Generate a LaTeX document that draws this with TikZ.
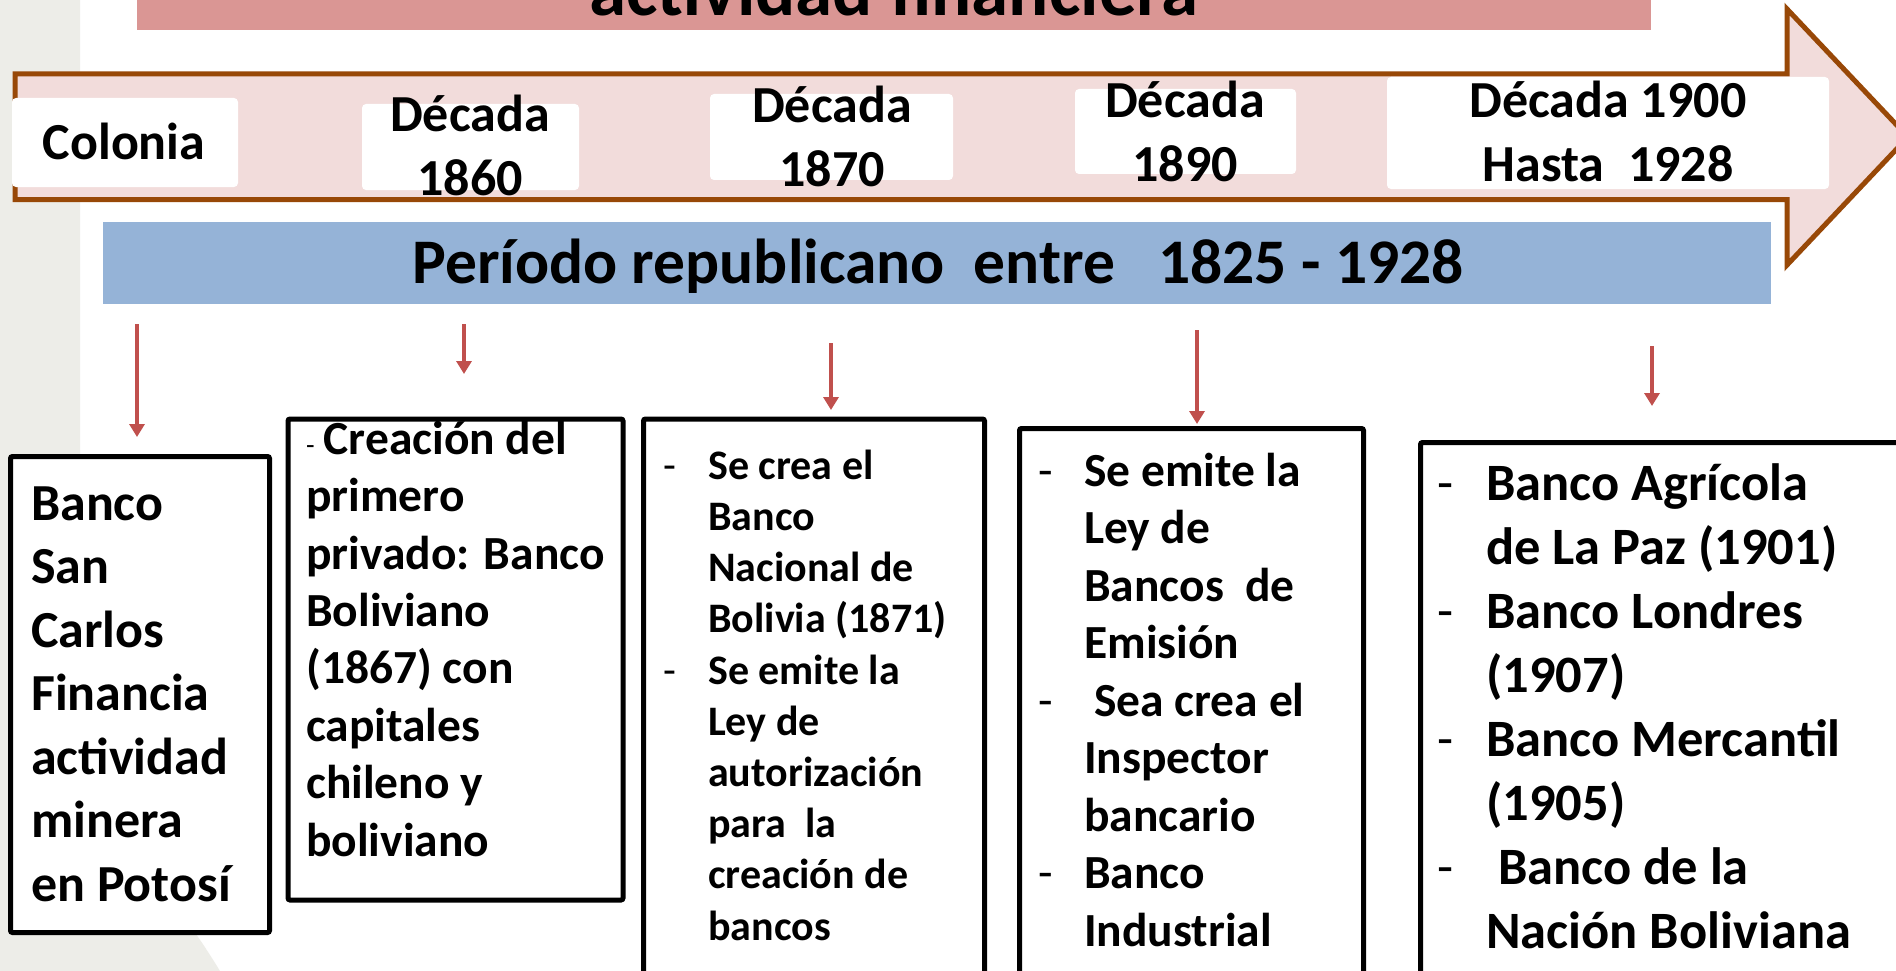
\documentclass[tikz,border=0pt]{standalone}
\usepackage{fontspec}
\setmainfont{Carlito}
\usetikzlibrary{arrows.meta}
\definecolor{bggray}{RGB}{237,237,232}
\definecolor{titlepink}{RGB}{218,150,148}
\definecolor{arrowfill}{RGB}{242,220,219}
\definecolor{arrowbrown}{RGB}{152,72,7}
\definecolor{barblue}{RGB}{149,179,215}
\definecolor{arrowred}{RGB}{192,80,77}
\newcommand{\dsh}[1]{\makebox[0pt][r]{\mdseries -\hspace*{#1}}}
\begin{document}
\begin{tikzpicture}[x=1pt,y=-1pt,
  decbox/.style={fill=white,draw=none,rounded corners=4pt,inner sep=0pt},
  dectext/.style={font=\bfseries\fontsize{52}{64}\selectfont,align=center,anchor=base,inner sep=0pt},
  infobox/.style={draw=black,line width=5pt,fill=white,rounded corners=2pt,inner sep=0pt},
  boxtext/.style 2 args={font=\bfseries\fontsize{#1}{#2}\selectfont,align=left,anchor=base west,inner sep=0pt},
  redarrow/.style={draw=arrowred,line width=4pt,-{Triangle[width=15pt,length=13pt]}}]
\useasboundingbox (0,0) rectangle (1896,971);
\clip (0,0) rectangle (1896,971);
\fill[white] (0,0) rectangle (1896,971);
% background grey shape
\fill[bggray] (0,-10) -- (80,-10) -- (80,600) .. controls (80,820) and (170,880) .. (228,985) -- (0,985) -- cycle;
% title bar
\fill[titlepink] (137,-10) rectangle (1651,30);
\node[anchor=base,inner sep=0pt,font=\bfseries\fontsize{75}{90}\selectfont] (title) at (894,16) {actividad financiera};
% big arrow
\draw[arrowbrown,fill=arrowfill,line width=5pt,miter limit=10]
  (15,74) -- (1787,74) -- (1787,9) -- (1908,137) -- (1787,265) -- (1787,199.5) -- (15,199.5) -- cycle;
% decade boxes
\node[decbox,minimum width=226pt,minimum height=89pt] (dcol) at (125,142.5) {};
\node[decbox,minimum width=217pt,minimum height=86pt] (d1860) at (470.5,147) {};
\node[decbox,minimum width=243pt,minimum height=86pt] (d1870) at (831.5,137) {};
\node[decbox,minimum width=221pt,minimum height=85pt] (d1890) at (1185.5,131.5) {};
\node[decbox,minimum width=442pt,minimum height=112pt] (d1900) at (1608,133) {};
\node[dectext] (tcol) at (124,160) {Colonia};
\node[dectext] (t1860) at (470,195) {Década\\1860};
\node[dectext] (t1870) at (832,186) {Década\\1870};
\node[dectext] (t1890) at (1185,182) {Década\\1890};
\node[dectext] (t1900) at (1608,182) {Década 1900\\Hasta\ \ 1928};
% blue bar
\fill[barblue] (103,222) rectangle (1771,304);
\node[anchor=base,inner sep=0pt,font=\bfseries\fontsize{63.5}{76}\selectfont] (periodo) at (938,283) {Período republicano\ \ entre\ \ \ 1825 - 1928};
% red arrows
\coordinate (a1s) at (137,324); \coordinate (a1e) at (137,437);
\coordinate (a2s) at (464,324); \coordinate (a2e) at (464,374);
\coordinate (a3s) at (831,343); \coordinate (a3e) at (831,410);
\coordinate (a4s) at (1197,330); \coordinate (a4e) at (1197,424);
\coordinate (a5s) at (1652,346); \coordinate (a5e) at (1652,406);
\draw[redarrow] (a1s) -- (a1e);
\draw[redarrow] (a2s) -- (a2e);
\draw[redarrow] (a3s) -- (a3e);
\draw[redarrow] (a4s) -- (a4e);
\draw[redarrow] (a5s) -- (a5e);
% bottom boxes
\node[infobox,minimum width=259pt,minimum height=476pt] (b1) at (140,694.5) {};
\node[infobox,minimum width=335pt,minimum height=481pt] (b2) at (455.5,659.5) {};
\node[infobox,minimum width=341pt,minimum height=581pt] (b3) at (814,709.5) {};
\node[infobox,minimum width=344pt,minimum height=571.5pt] (b4) at (1191.5,714.25) {};
\node[infobox,minimum width=509.5pt,minimum height=557.5pt] (b5) at (1675.25,721.25) {};
% texts (anchored at the baseline of their last line)
\node[boxtext={52}{63.5}] (tb1) at (31,901) {Banco\\San\\Carlos\\Financia\\actividad\\minera\\en Potosí};
\node[boxtext={47.5}{57.4}] (tb2) at (306,856) {{\mdseries\fontsize{28}{28}\selectfont -}\hspace*{9pt}Creación del\\primero\\privado: Banco\\Boliviano\\(1867) con\\capitales\\chileno y\\boliviano};
\node[boxtext={42}{51.2}] (tb3) at (708,940) {\dsh{32pt}Se crea el\\Banco\\Nacional de\\Bolivia (1871)\\\dsh{32pt}Se emite la\\Ley de\\autorización\\para\ \ la\\creación de\\bancos};
\node[boxtext={47.5}{57.5}] (tb4) at (1084,946) {\dsh{31.5pt}Se emite la\\Ley de\\Bancos\ \ de\\Emisión\\\dsh{31.5pt}\hspace*{10pt}Sea crea el\\Inspector\\bancario\\\dsh{31.5pt}Banco\\Industrial};
\node[boxtext={52.5}{64}] (tb5) at (1486,948) {\dsh{33pt}Banco Agrícola\\de La Paz (1901)\\\dsh{33pt}Banco Londres\\(1907)\\\dsh{33pt}Banco Mercantil\\(1905)\\\dsh{33pt}\hspace*{12pt}Banco de la\\Nación Boliviana};
\end{tikzpicture}
\end{document}
